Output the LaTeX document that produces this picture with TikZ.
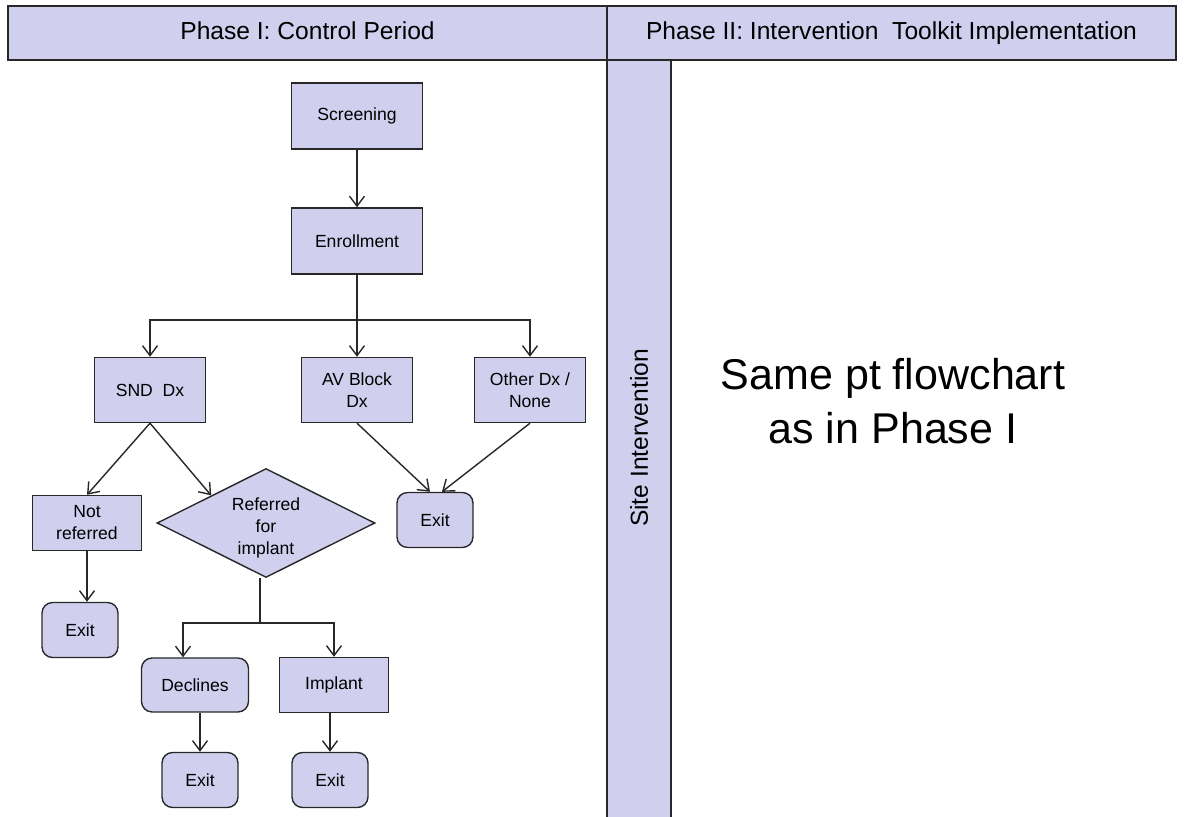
\documentclass[tikz,border=0pt]{standalone}
\usepackage{fontspec}
\setmainfont{Liberation Sans}
\usetikzlibrary{shapes.geometric,arrows.meta}
\definecolor{lavender}{RGB}{208,208,238}
\definecolor{edge}{RGB}{40,40,40}

\begin{document}
\begin{tikzpicture}[x=0.02cm,y=-0.02cm]
  \tikzset{box/.style = {shape=rectangle, draw=edge, fill=lavender, line width=0.8pt, inner sep=0pt, align=center, font=\fontsize{10}{12.5}\selectfont}} % box style
  \tikzset{exitbox/.style = {box, rounded corners=6pt}}
  \tikzset{decision/.style = {box, shape=diamond, shape aspect=2, minimum width=4.36cm, minimum height=2.18cm}}
  \tikzset{header/.style = {box, line width=1.1pt, font=\fontsize{14}{16}\selectfont, text height=0.95em, text depth=0.2em, minimum height=1.08cm}}
  \tikzset{arr/.style = {draw=edge, line width=0.8pt, -{Straight Barb[length=2mm, width=3mm]}}}
  \tikzset{line/.style = {draw=edge, line width=0.8pt}}

  \useasboundingbox (0,0) rectangle (1184,817);

  % band and headers
  \fill[lavender] (607,60) rectangle (671,820);
  \draw[edge, line width=1.1pt] (607,60) -- (607,820) (671,60) -- (671,820);
  \node[header, minimum width=11.98cm] (phase1) at (307.5,33) {Phase I: Control Period};
  \node[header, minimum width=11.38cm] (phase2) at (891.5,33) {Phase II: Intervention~ Toolkit Implementation};
  \node[rotate=90, font=\fontsize{14}{16}\selectfont] (site) at (639,438) {Site Intervention};
  \node[align=center, font=\fontsize{24.5}{31}\selectfont] (same) at (893,401) {Same pt flowchart\\as in Phase I};

  % nodes
  \node[box, minimum width=2.62cm, minimum height=1.32cm] (screen) at (357,116) {Screening};
  \node[box, minimum width=2.62cm, minimum height=1.32cm] (enroll) at (357,241) {Enrollment};
  \node[box, minimum width=2.22cm, minimum height=1.3cm] (snd) at (150,390) {SND~ Dx};
  \node[box, minimum width=2.22cm, minimum height=1.3cm] (av) at (357,390) {AV Block\\Dx};
  \node[box, minimum width=2.22cm, minimum height=1.3cm] (other) at (530,390) {Other Dx /\\None};
  \node[box, minimum width=2.18cm, minimum height=1.1cm] (notref) at (87,523) {Not\\referred};
  \node[decision] (refer) at (266,523) {};
  \node[font=\fontsize{10}{12.5}\selectfont, align=center] (refertext) at (266,528) {Referred\\for\\implant};
  \node[exitbox, minimum width=1.52cm, minimum height=1.1cm] (exitA) at (80,630) {Exit};
  \node[exitbox, minimum width=1.52cm, minimum height=1.1cm] (exitB) at (435,520) {Exit};
  \node[exitbox, minimum width=2.14cm, minimum height=1.08cm] (decl) at (195,685) {Declines};
  \node[box, minimum width=2.18cm, minimum height=1.1cm] (impl) at (334,685) {Implant};
  \node[exitbox, minimum width=1.52cm, minimum height=1.1cm] (exitC) at (200,780) {Exit};
  \node[exitbox, minimum width=1.52cm, minimum height=1.1cm] (exitD) at (330,780) {Exit};
  \coordinate (split1) at (357,320);
  \coordinate (split2) at (260,623);

  % connectors
  \draw[arr] (screen) -- (enroll);
  \draw[line] (enroll) -- (split1);
  \draw[arr] (split1) -| (snd.north);
  \draw[arr] (split1) -- (av);
  \draw[arr] (split1) -| (other.north);
  \draw[arr] (snd.south) -- (notref.north);
  \draw[arr] (snd.south) -- (refer.north west);
  \draw[arr] (av.south) -- ([xshift=-0.1cm]exitB.north);
  \draw[arr] (other.south) -- ([xshift=0.14cm]exitB.north);
  \draw[arr] (notref) -- (notref |- exitA.north);
  \draw[line] (split2 |- refer.south) -- (split2);
  \draw[arr] (split2) -| ([xshift=-0.24cm]decl.north);
  \draw[arr] (split2) -| (impl.north);
  \draw[arr] (decl.south -| exitC) -- (exitC.north);
  \draw[arr] (impl.south -| exitD) -- (exitD.north);

\end{tikzpicture}
\end{document}
